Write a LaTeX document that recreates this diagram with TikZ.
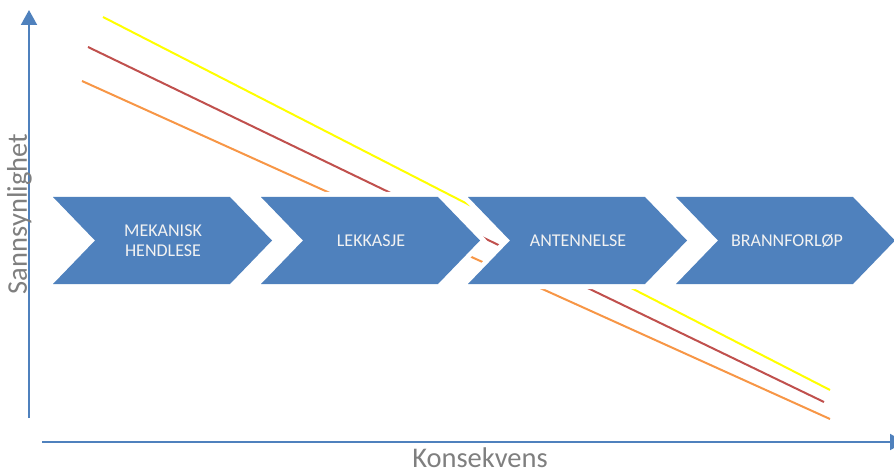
\documentclass[tikz,border=0pt]{standalone}
\usepackage{fontspec}
\setmainfont{Carlito}
\usetikzlibrary{arrows.meta}
\definecolor{axisblue}{HTML}{4F81BD}
\definecolor{chevfill}{HTML}{4F81BD}
\definecolor{lnyellow}{HTML}{FFFF00}
\definecolor{lnred}{HTML}{C0504D}
\definecolor{lnorange}{HTML}{F79646}
\definecolor{labgray}{HTML}{7F7F7F}
\tikzset{
  axisline/.style={draw=axisblue, line width=2pt, -{Triangle[width=16pt,length=15pt]}},
  trendline/.style={line width=2pt},
  chevhalo/.style={draw=white, line width=10pt, line join=miter},
  chevron/.style={fill=chevfill},
  chevtext/.style={text=white!95!black, font=\fontsize{18}{20}\selectfont, align=center, inner sep=0pt},
  axislabel/.style={text=labgray, font=\fontsize{28.5}{30}\selectfont, inner sep=0pt}
}
\begin{document}
\begin{tikzpicture}[x=1pt, y=-1pt]
\clip (0,0) rectangle (894,473);
\useasboundingbox (0,0) rectangle (894,473);
% trend lines
\coordinate (ys) at (103,17);  \coordinate (ye) at (830,390);
\coordinate (rs) at (88,47);   \coordinate (re) at (824,402);
\coordinate (os) at (82,81);   \coordinate (oe) at (830,419);
\draw[trendline, lnyellow] (ys) -- (ye);
\draw[trendline, lnred] (rs) -- (re);
\draw[trendline, lnorange] (os) -- (oe);
% chevrons: white halo first, then fill
\foreach \L in {53, 261, 468, 676}{
  \path[chevhalo] (\L,197) -- (\L+177,197) -- (\L+219,240.5) -- (\L+177,284) -- (\L,284) -- (\L+42,240.5) -- cycle;
}
\foreach \L in {53, 261, 468, 676}{
  \path[chevron] (\L,197) -- (\L+177,197) -- (\L+219,240.5) -- (\L+177,284) -- (\L,284) -- (\L+42,240.5) -- cycle;
}
\node[chevtext] (t1) at (163,241) {MEKANISK\\HENDLESE};
\node[chevtext] (t2) at (371,241) {LEKKASJE};
\node[chevtext] (t3) at (578,241) {ANTENNELSE};
\node[chevtext] (t4) at (787,241) {BRANNFORLØP};
% axes
\coordinate (yb) at (29,418);
\coordinate (yt) at (29,10);
\coordinate (xl) at (42,442);
\coordinate (xr) at (905,442);
\draw[axisline] (yb) -- (yt);
\draw[axisline] (xl) -- (xr);
\node[axislabel, anchor=base] (xlab) at (480,467) {Konsekvens};
\node[axislabel, rotate=90, anchor=base] (ylab) at (27,214) {Sannsynlighet};
\end{tikzpicture}
\end{document}
